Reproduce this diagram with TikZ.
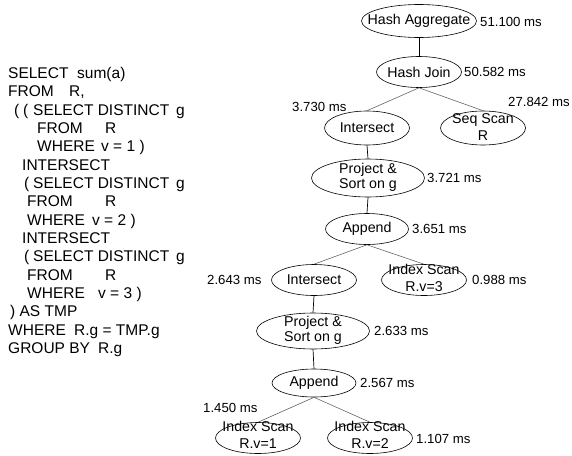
\documentclass[tikz,border=0pt]{standalone}
\usepackage{fontspec}
\setmainfont{Liberation Sans}
\usetikzlibrary{shapes.geometric}
\begin{document}
\begin{tikzpicture}[x=1pt,y=-1pt,
  op/.style={ellipse, draw=black, line width=0.6pt, inner sep=0pt, minimum width=85pt, minimum height=31pt},
  optext/.style={font=\fontsize{14.2}{17}\selectfont, align=center, inner sep=0pt},
  ms/.style={font=\fontsize{13.2}{16}\selectfont, anchor=west, inner sep=0pt},
  sql/.style={font=\fontsize{15.5}{17}\selectfont, anchor=base west, inner sep=0pt},
  dedge/.style={draw=black!60, line width=0.6pt},
  vedge/.style={draw=black, line width=0.7pt}]
\useasboundingbox[fill=white] (0,0) rectangle (572,455);

% SQL text
\node[sql] (q1a) at (8,78.4) {SELECT};
\node[sql] (q1b) at (77,78.4) {sum(a)};
\node[sql] (q2a) at (8,96.7) {FROM};
\node[sql] (q2b) at (69,96.7) {R,};
\node[sql] (q3a) at (14,115) {(};
\node[sql] (q3b) at (23,115) {(};
\node[sql] (q3c) at (33,115) {SELECT DISTINCT};
\node[sql] (q3d) at (176,115) {g};
\node[sql] (q4a) at (37,133.4) {FROM};
\node[sql] (q4b) at (105,133.4) {R};
\node[sql] (q5a) at (37,151.7) {WHERE};
\node[sql] (q5b) at (101,151.7) {v = 1 )};
\node[sql] (q6) at (22,170) {INTERSECT};
\node[sql] (q7a) at (24,188.4) {(};
\node[sql] (q7b) at (33,188.4) {SELECT DISTINCT};
\node[sql] (q7c) at (176,188.4) {g};
\node[sql] (q8a) at (27,206.7) {FROM};
\node[sql] (q8b) at (105,206.7) {R};
\node[sql] (q9a) at (27,225) {WHERE};
\node[sql] (q9b) at (92,225) {v = 2 )};
\node[sql] (q10) at (22,243.4) {INTERSECT};
\node[sql] (q11a) at (24,261.7) {(};
\node[sql] (q11b) at (33,261.7) {SELECT DISTINCT};
\node[sql] (q11c) at (176,261.7) {g};
\node[sql] (q12a) at (27,280) {FROM};
\node[sql] (q12b) at (105,280) {R};
\node[sql] (q13a) at (27,298.4) {WHERE};
\node[sql] (q13b) at (98,298.4) {v = 3 )};
\node[sql] (q14) at (10,316.7) {) AS TMP};
\node[sql] (q15a) at (8,335) {WHERE};
\node[sql] (q15b) at (74,335) {R.g = TMP.g};
\node[sql] (q16a) at (8,353.4) {GROUP BY};
\node[sql] (q16b) at (98,353.4) {R.g};

% plan operators
\node[op, minimum width=115pt, minimum height=33pt] (ha) at (419,21) {};
\node[optext] (hat) at (ha) {Hash Aggregate};
\node[op, minimum width=85pt, minimum height=31pt] (hj) at (419,72) {};
\node[optext] (hjt) at (hj) {Hash Join};
\node[op, minimum width=85pt, minimum height=34pt] (in1) at (367,128) {};
\node[optext] (in1t) at (in1) {Intersect};
\node[op, minimum width=85pt, minimum height=34pt] (seq) at (483,128) {};
\node[optext] (seqt) at ([yshift=1pt]seq) {Seq Scan\\R};
\node[op, minimum width=113pt, minimum height=38pt] (pr1) at (368,178) {};
\node[optext, font=\fontsize{14.2}{15}\selectfont] (pr1t) at ([yshift=1pt]pr1) {Project \&\\Sort on g};
\node[op, minimum width=83pt, minimum height=31pt] (ap1) at (367,229) {};
\node[optext] (ap1t) at (ap1) {Append};
\node[op, minimum width=85pt, minimum height=31pt] (in2) at (314,280) {};
\node[optext] (in2t) at (in2) {Intersect};
\node[op, minimum width=85pt, minimum height=31pt] (is3) at (424,280) {};
\node[optext] (is3t) at ([yshift=2pt]is3) {Index Scan\\R.v=3};
\node[op, minimum width=113pt, minimum height=36pt] (pr2) at (313,331) {};
\node[optext, font=\fontsize{14.2}{15}\selectfont] (pr2t) at ([yshift=1pt]pr2) {Project \&\\Sort on g};
\node[op, minimum width=84pt, minimum height=28pt] (ap2) at (314,383) {};
\node[optext] (ap2t) at (ap2) {Append};
\node[op, minimum width=85pt, minimum height=31pt] (is1) at (258,438) {};
\node[optext] (is1t) at ([yshift=3pt]is1) {Index Scan\\R.v=1};
\node[op, minimum width=85pt, minimum height=31pt] (is2) at (370,438) {};
\node[optext] (is2t) at ([yshift=3pt]is2) {Index Scan\\R.v=2};

% timings
\node[ms] (m1) at (480,22) {51.100 ms};
\node[ms] (m2) at (464,72) {50.582 ms};
\node[ms] (m3) at (292,107) {3.730 ms};
\node[ms] (m4) at (508,102) {27.842 ms};
\node[ms] (m5) at (427,178) {3.721 ms};
\node[ms] (m6) at (412,229) {3.651 ms};
\node[ms] (m7) at (207,280) {2.643 ms};
\node[ms] (m8) at (472,280) {0.988 ms};
\node[ms] (m9) at (374,331) {2.633 ms};
\node[ms] (m10) at (360,383) {2.567 ms};
\node[ms] (m11) at (203,408) {1.450 ms};
\node[ms] (m12) at (416,439) {1.107 ms};

% edges
\draw[vedge] (ha.south) -- (hj.north);
\draw[dedge] (hj.south) -- (in1.north);
\draw[dedge] (hj.south) -- (seq.north);
\draw[vedge] (in1.south) -- (pr1.north);
\draw[vedge] (pr1.south) -- (ap1.north);
\draw[dedge] (ap1.south) -- (in2.north);
\draw[dedge] (ap1.south) -- (is3.north);
\draw[vedge] (in2.south) -- (pr2.north);
\draw[vedge] (pr2.south) -- (ap2.north);
\draw[dedge] (ap2.south) -- (is1.north);
\draw[dedge] (ap2.south) -- (is2.north);
\end{tikzpicture}
\end{document}
